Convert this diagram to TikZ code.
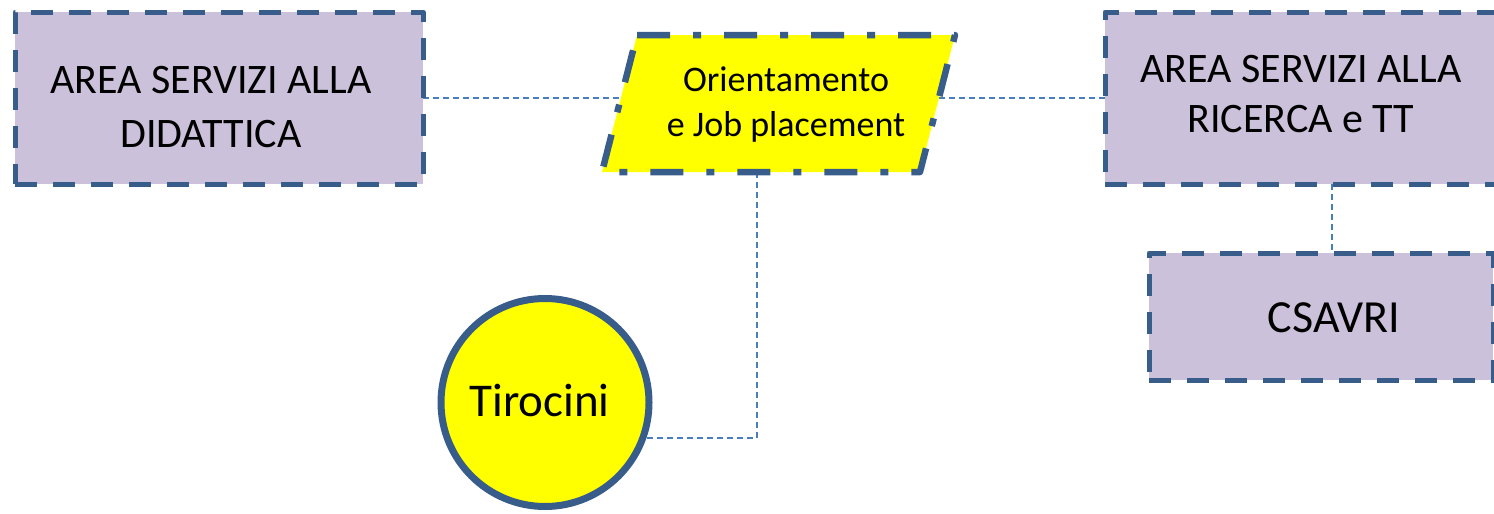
\documentclass[tikz,border=0pt]{standalone}
\usepackage{fontspec}
\setmainfont{Carlito}
\usetikzlibrary{backgrounds}
\definecolor{lav}{HTML}{CCC1DA}
\definecolor{bord}{HTML}{385D8A}
\definecolor{conn}{HTML}{4A7EBB}
\definecolor{yel}{HTML}{FFFF00}
\tikzset{
 area/.style={rectangle, fill=lav, draw=bord, line width=5pt, dash pattern=on 22pt off 16pt, line join=round, inner sep=0pt, outer sep=0pt},
 lbl/.style={align=center, inner sep=0pt, text=black},
 link/.style={draw=conn, line width=1.5pt, dash pattern=on 6pt off 4pt},
 para/.style={fill=yel, draw=bord, line width=6.5pt, dash pattern=on 33pt off 23pt on 8pt off 23pt, line join=round},
}
\begin{document}
\begin{tikzpicture}[x=1pt,y=-1pt]
\useasboundingbox (0,0) rectangle (1494,514);
\clip (0,0) rectangle (1494,514);
\node[area, minimum width=408pt, minimum height=172pt,
  label={[lbl, font=\fontsize{42}{54}\selectfont, xshift=-8pt, yshift=-8.75pt]center:{AREA SERVIZI ALLA\\DIDATTICA}}] (b1) at (219,98) {};
\node[area, minimum width=396pt, minimum height=172pt,
  label={[lbl, font=\fontsize{42}{50}\selectfont, xshift=-2pt, yshift=4.25pt]center:{AREA SERVIZI ALLA\\RICERCA e TT}}] (b2) at (1303,98) {};
\node[area, minimum width=344pt, minimum height=127pt,
  label={[lbl, font=\fontsize{46}{55}\selectfont, xshift=13pt, yshift=-1.5pt]center:{CSAVRI}}] (cs) at (1321,316.5) {};
\node[rectangle, minimum width=318pt, minimum height=137pt, inner sep=0pt, outer sep=0pt,
  label={[lbl, font=\fontsize{36}{45}\selectfont, xshift=7.5pt, yshift=-1pt]center:{Orientamento\\e Job placement}}] (pg) at (778.5,103.5) {};
\node[circle, fill=yel, draw=bord, line width=7pt, minimum size=208pt, inner sep=0pt, outer sep=0pt,
  label={[lbl, font=\fontsize{47}{56}\selectfont, xshift=-5.5pt, yshift=2pt]center:{Tirocini}}] (tir) at (545,402.5) {};
\coordinate (jv) at (757,0);
\coordinate (cv) at (1332,0);
\begin{pgfonlayer}{background}
\draw[link] (b1.east) -- (b1.east -| pg.west);
\draw[link] (b2.west) -- (b2.west -| pg.east);
\draw[link] (jv |- pg.south) |- (tir.-20);
\draw[link] (cv |- b2.south) -- (cv |- cs.north);
\draw[para] ([xshift=17.5pt]pg.north west) -- ([xshift=17.5pt]pg.north east)
  -- ([xshift=-17.5pt]pg.south east) -- ([xshift=-17.5pt]pg.south west) -- cycle;
\end{pgfonlayer}
\end{tikzpicture}
\end{document}
